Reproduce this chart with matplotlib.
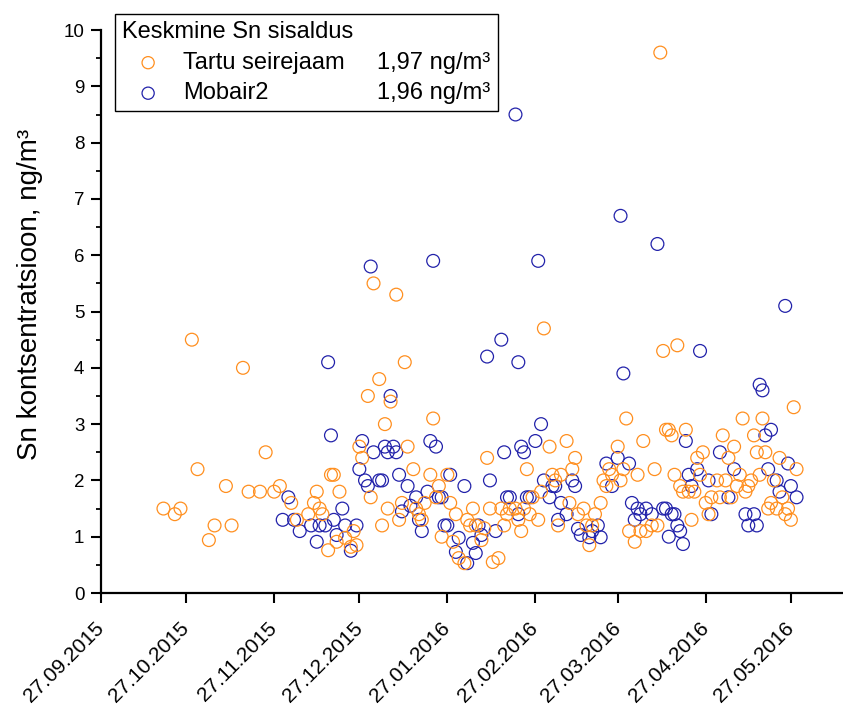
import matplotlib
matplotlib.use("Agg")
import matplotlib.pyplot as plt
import matplotlib.dates as mdates
from matplotlib.lines import Line2D
from matplotlib.ticker import MultipleLocator
import pandas as pd

plt.rcParams["font.family"] = ["Liberation Sans", "DejaVu Sans"]

# Measurement day = days after 27.09.2015
START = "2015-09-27"

# Tartu seirejaam (orange)
tartu_day = [22, 26, 28, 32, 34, 38, 40, 44, 46, 50,
             52, 56, 58, 61, 63, 67, 69, 73, 75, 76,
             77, 78, 80, 81, 82, 83, 84, 86, 88, 89,
             90, 91, 92, 94, 95, 96, 98, 99, 100, 101,
             102, 104, 105, 106, 107, 108, 110, 111, 112, 113,
             114, 116, 117, 118, 119, 120, 122, 123, 124, 125,
             126, 128, 129, 130, 131, 132, 134, 135, 136, 137,
             138, 140, 141, 142, 143, 144, 146, 147, 148, 149,
             150, 151, 152, 154, 155, 156, 158, 159, 160, 161,
             162, 164, 165, 166, 167, 168, 170, 171, 172, 173,
             174, 176, 177, 178, 179, 180, 182, 183, 184, 185,
             186, 188, 189, 190, 191, 192, 194, 195, 196, 197,
             198, 199, 200, 201, 202, 203, 204, 205, 206, 207,
             208, 209, 210, 211, 212, 213, 214, 215, 217, 218,
             219, 220, 221, 222, 223, 224, 225, 226, 227, 228,
             229, 230, 231, 232, 233, 234, 235, 236, 237, 238,
             239, 240, 241, 242, 243, 244, 245]
tartu_sn = [1.5, 1.4, 1.5, 4.5, 2.2, 0.94, 1.2, 1.9, 1.2, 4.0,
            1.8, 1.8, 2.5, 1.8, 1.9, 1.6, 1.3, 1.4, 1.6, 1.8,
            1.5, 1.4, 0.76, 2.1, 2.1, 0.91, 1.8, 0.98, 0.82, 1.1,
            0.85, 2.6, 2.4, 3.5, 1.7, 5.5, 3.8, 1.2, 3.0, 1.5,
            3.4, 5.3, 1.3, 1.6, 4.1, 2.6, 2.2, 1.5, 1.4, 1.3,
            1.6, 2.1, 3.1, 1.7, 1.9, 1.0, 2.1, 1.6, 0.91, 1.4,
            0.62, 0.53, 1.3, 1.2, 1.5, 1.2, 0.94, 1.15, 2.4, 1.5,
            0.55, 0.62, 1.5, 1.2, 1.4, 1.5, 1.5, 1.3, 1.1, 1.5,
            2.2, 1.4, 1.7, 1.3, 1.8, 4.7, 2.6, 2.1, 2.0, 1.2,
            2.1, 2.7, 1.6, 2.2, 2.4, 1.4, 1.5, 1.2, 0.85, 1.2,
            1.4, 1.6, 2.0, 1.9, 2.2, 2.1, 2.6, 2.0, 2.2, 3.1,
            1.1, 0.91, 2.1, 1.1, 2.7, 1.1, 1.2, 2.2, 1.2, 9.6,
            4.3, 2.9, 2.9, 2.8, 2.1, 4.4, 1.9, 1.8, 2.9, 1.8,
            1.3, 1.8, 2.4, 2.1, 2.5, 1.6, 1.4, 1.7, 2.0, 1.7,
            2.8, 2.0, 2.4, 1.7, 2.6, 1.9, 2.1, 3.1, 1.8, 1.9,
            2.0, 2.8, 2.5, 2.1, 3.1, 2.5, 1.5, 1.6, 2.0, 1.5,
            2.4, 1.7, 1.4, 1.5, 1.3, 3.3, 2.2]

# Mobair2 (blue)
mobair_day = [64, 66, 68, 70, 74, 76, 77, 79, 80, 81,
              82, 83, 85, 86, 88, 90, 91, 92, 93, 94,
              95, 96, 98, 99, 100, 101, 102, 103, 104, 105,
              106, 108, 109, 111, 112, 113, 115, 116, 117, 118,
              119, 120, 121, 122, 123, 125, 126, 128, 129, 131,
              132, 133, 134, 136, 137, 139, 141, 142, 143, 144,
              146, 147, 147, 148, 149, 150, 151, 153, 154, 155,
              156, 158, 159, 160, 161, 162, 164, 166, 167, 168,
              169, 172, 173, 175, 176, 178, 180, 182, 183, 184,
              186, 187, 188, 189, 190, 192, 194, 196, 198, 199,
              200, 201, 202, 203, 204, 205, 206, 207, 208, 210,
              211, 214, 215, 218, 221, 223, 227, 228, 230, 231,
              232, 233, 234, 235, 236, 238, 239, 241, 242, 243,
              245]
mobair_sn = [1.3, 1.7, 1.3, 1.1, 1.2, 0.91, 1.2, 1.2, 4.1, 2.8,
             1.3, 1.03, 1.5, 1.2, 0.75, 1.2, 2.2, 2.7, 2.0, 1.9,
             5.8, 2.5, 2.0, 2.0, 2.6, 2.5, 3.5, 2.6, 2.5, 2.1,
             1.45, 1.9, 1.55, 1.7, 1.3, 1.1, 1.8, 2.7, 5.9, 2.6,
             1.7, 1.7, 1.2, 1.2, 2.1, 0.73, 0.98, 1.9, 0.53, 0.89,
             0.71, 1.2, 1.03, 4.2, 2.0, 1.1, 4.5, 2.5, 1.7, 1.7,
             8.5, 4.1, 1.4, 2.6, 2.5, 1.7, 1.7, 2.7, 5.9, 3.0,
             2.0, 1.7, 1.9, 1.9, 1.3, 1.6, 1.4, 2.0, 1.9, 1.14,
             1.03, 0.99, 1.1, 1.2, 0.99, 2.3, 1.9, 2.4, 6.7, 3.9,
             2.3, 1.6, 1.3, 1.5, 1.4, 1.5, 1.4, 6.2, 1.5, 1.5,
             1.0, 1.4, 1.4, 1.2, 1.1, 0.87, 2.7, 2.1, 1.9, 2.2,
             4.3, 2.0, 1.4, 2.5, 1.7, 2.2, 1.4, 1.2, 1.4, 1.2,
             3.7, 3.6, 2.8, 2.2, 2.9, 2.0, 1.8, 5.1, 2.3, 1.9,
             1.7]

legend_title = "Keskmine Sn sisaldus"
series_names = ["Tartu seirejaam", "Mobair2"]
series_means = ["1,97 ng/m³", "1,96 ng/m³"]
tick_dates = ["2015-09-27", "2015-10-27", "2015-11-27", "2015-12-27", "2016-01-27",
              "2016-02-27", "2016-03-27", "2016-04-27", "2016-05-27"]

ORANGE = "#FF8F1F"
BLUE = "#2222AA"

start = pd.Timestamp(START)
tartu_dates = start + pd.to_timedelta(tartu_day, unit="D")
mobair_dates = start + pd.to_timedelta(mobair_day, unit="D")

fig = plt.figure(figsize=(8.43, 7.09), dpi=100)
ax = fig.add_axes([0.1198, 0.1636, 0.879, 0.794])

h_mob = ax.scatter(mobair_dates, mobair_sn, s=85, facecolors="none",
                   edgecolors=BLUE, linewidths=0.9, zorder=2)
h_tar = ax.scatter(tartu_dates, tartu_sn, s=85, facecolors="none",
                   edgecolors=ORANGE, linewidths=0.9, zorder=3)

ax.set_xlim(start, pd.Timestamp("2016-06-14"))
ax.set_ylim(0, 10)
ax.set_xticks(pd.to_datetime(tick_dates))
ax.xaxis.set_major_formatter(mdates.DateFormatter("%d.%m.%Y"))
ax.yaxis.set_major_locator(MultipleLocator(1))
ax.yaxis.set_minor_locator(MultipleLocator(0.5))

for s in ["top", "right"]:
    ax.spines[s].set_visible(False)
for s in ["left", "bottom"]:
    ax.spines[s].set_linewidth(1.6)

ax.tick_params(axis="both", which="major", direction="out", length=7, width=1.5,
               color="black")
ax.tick_params(axis="y", which="major", labelsize=13.5, pad=5)
ax.tick_params(axis="y", which="minor", direction="out", length=3.5, width=1.3)
ax.tick_params(axis="x", which="major", labelsize=15, pad=16)
plt.setp(ax.get_xticklabels(), rotation=45, ha="right", va="center",
         rotation_mode="anchor")

ax.set_ylabel("Sn kontsentratsioon, ng/m³", fontsize=20)
ax.yaxis.set_label_coords(-0.078, 0.53)

blank = Line2D([], [], linestyle="none")
leg = ax.legend([h_tar, h_mob, blank, blank],
                series_names + series_means,
                ncol=2, title=legend_title, alignment="left",
                loc="upper left", bbox_to_anchor=(0.019, 1.028),
                borderaxespad=0, fontsize=17, title_fontsize=17,
                frameon=True, fancybox=False, edgecolor="black", framealpha=1,
                borderpad=0.3, handlelength=2.2, handletextpad=0.38,
                columnspacing=-1.2, labelspacing=0.36, markerscale=0.95)
leg.get_frame().set_linewidth(1.0)

fig.savefig("out.png", dpi=100)
